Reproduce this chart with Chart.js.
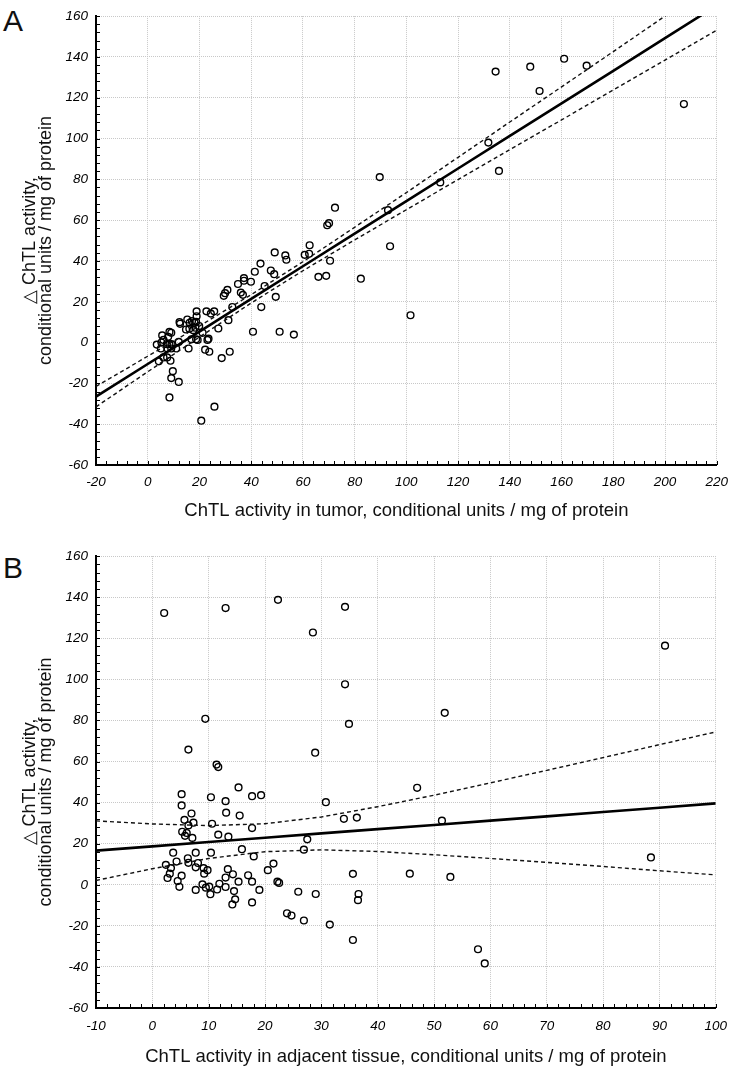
<!DOCTYPE html>
<html>
<head>
<meta charset="utf-8">
<script src="https://cdn.jsdelivr.net/npm/chart.js@4.4.1/dist/chart.umd.min.js"></script>
<style>
  body { margin: 0; width: 737px; height: 1070px; position: relative; background: #fff; overflow: hidden; }
  .panel { position: absolute; left: 0; width: 737px; height: 530px; }
  .tag { position: absolute; left: 3px; font: 30px/30px "Liberation Sans", Arial, sans-serif; color: #111; }
</style>
</head>
<body>
<div class="tag" style="top:6px">A</div>
<div class="panel" style="top:0"><canvas id="chartA" width="737" height="530"></canvas></div>
<div class="tag" style="top:553px">B</div>
<div class="panel" style="top:540px"><canvas id="chartB" width="737" height="530"></canvas></div>
<script>
// Panel A: ChTL activity in tumor vs delta ChTL activity
const tumorX = [3.5, 5.3, 5.6, 6.1, 5.1, 4.3, 6.1, 7.4, 8.4, 9.2, 7.6, 9.1, 11, 7.9, 8.4, 9.1, 7.5, 8.8, 9.7, 9.1,
  12, 8.4, 12, 12.3, 12.5, 14.8, 16.1, 17.6, 18.4, 15.3, 16.2, 17.1, 18.1, 18.9, 18.9, 18.7, 19.9, 21.2, 18.7, 19.3,
  16.9, 15.8, 22.7, 24.4, 25.7, 23.1, 23.5, 22.2, 23.8, 27.3, 28.6, 31.7, 25.8, 20.7, 31.2, 32.7, 29.4, 29.9, 30.8, 34.9,
  36, 36.8, 37.2, 37.2, 39.9, 41.4, 43.6, 45.2, 43.9, 40.7, 49.5, 47.6, 48.9, 49.1, 53.2, 53.6, 51, 56.5, 60.7, 62.4,
  62.6, 66, 69, 70.5, 69.4, 70.1, 72.4, 82.4, 89.7, 92.9, 93.7, 101.6, 113.1, 131.7, 135.8, 134.5, 147.9, 151.5, 161, 169.7,
  207.3];
const deltaA = [-1, 0, 3.5, 1.3, -2.9, -9.2, -7.3, -0.8, -0.8, -0.8, -2.9, -2.9, -2.9, 2.8, 5.2, 4.8, -7.3, -8.9, -14, -17.4,
  -19.3, -26.9, 0.3, 10, 9.2, 6.4, 6.8, 6.1, 7.3, 11.3, 9.7, 10.5, 9.7, 15.3, 12.9, 10.1, 8.1, 4.8, 1.6, 1.3,
  1.6, -2.9, 15.3, 14.2, 15.3, 1.3, 1.9, -3.5, -4.5, 6.9, -7.6, -4.5, -31.4, -38.3, 11, 17.4, 22.9, 24.2, 25.8, 28.7,
  24.5, 23.4, 31.6, 30.3, 29.8, 34.7, 38.7, 27.7, 17.4, 5.3, 22.4, 35.3, 33.5, 44.2, 42.7, 40.6, 5.3, 3.9, 43, 43.5,
  47.7, 32.2, 32.7, 40.1, 57.5, 58.5, 66.1, 31.3, 81.1, 64.9, 47.2, 13.4, 78.5, 98, 84.1, 132.8, 135.2, 123.3, 139.1, 135.7,
  116.9];
const fitXA = [-20, 0, 20, 40, 60, 80, 100, 120, 140, 160, 180, 200, 220];
const fitA = [-26.5, -10.5, 5.4, 21.4, 37.4, 53.4, 69.3, 85.3, 101.3, 117.2, 133.2, 149.2, 165.2];
const upperA = [-21.5, -6.7, 8.1, 23.5, 39.6, 56.5, 73.5, 90.8, 108.1, 125.3, 142.6, 160.0, 177.3];
const lowerA = [-31.5, -14.3, 2.7, 19.4, 35.2, 50.3, 65.1, 79.9, 94.6, 109.1, 123.8, 138.4, 153.1];
const xTicksA = [-20, 0, 20, 40, 60, 80, 100, 120, 140, 160, 180, 200, 220];

// Panel B: ChTL activity in adjacent tissue vs delta ChTL activity
const adjacentX = [2.1, 13, 22.3, 34.2, 28.5, 91, 34.2, 51.9, 9.4, 34.9, 6.4, 28.9, 11.4, 11.7, 15.3, 47, 5.2, 10.4, 17.7, 19.3,
  13, 30.8, 5.2, 6.95, 13.1, 15.5, 34, 36.3, 51.4, 5.7, 6.4, 7.3, 10.6, 17.7, 5.3, 5.8, 6.1, 7.1, 11.7, 13.5,
  27.5, 15.9, 26.9, 3.7, 7.7, 10.4, 18, 88.5, 6.3, 8.1, 6.4, 2.4, 4.3, 3.3, 7.7, 21.5, 20.5, 9.1, 9.8, 9.2,
  13.4, 14.3, 17, 13, 2.7, 3.1, 5.2, 4.5, 4.8, 35.6, 45.7, 52.9, 15.3, 17.7, 22.2, 22.5, 8.9, 9.5, 10.1, 10.3,
  11.5, 11.9, 13, 7.7, 19, 14.5, 14.7, 14.2, 17.7, 25.9, 29, 36.6, 36.5, 23.9, 24.7, 26.9, 31.5, 35.6, 57.8, 59];
const deltaB = [132.3, 134.7, 138.7, 135.3, 122.8, 116.4, 97.6, 83.7, 80.8, 78.3, 65.8, 64.3, 58.5, 57.3, 47.4, 47.2, 44.1, 42.6, 43.1, 43.6,
  40.7, 40.2, 38.6, 34.7, 35.1, 33.7, 32.1, 32.7, 31.2, 31.6, 28.9, 30.2, 29.7, 27.6, 25.8, 23.8, 25.2, 22.8, 24.4, 23.4,
  22.1, 17.3, 17.1, 15.6, 15.6, 15.6, 13.8, 13.3, 12.9, 10.6, 10.7, 9.7, 11.3, 8.1, 8.5, 10.3, 7.1, 8.1, 7.1, 5.4,
  7.6, 5.1, 4.6, 3.5, 3.3, 5.4, 4.4, 1.8, -1, 5.3, 5.4, 3.8, 1.5, 1.5, 1.5, 0.9, 0.2, -1.4, -0.9, -4.6,
  -2.3, 0.5, -1.1, -2.5, -2.5, -3.1, -7.1, -9.6, -8.6, -3.4, -4.5, -4.5, -7.5, -13.9, -15, -17.4, -19.4, -26.9, -31.4, -38.3];
const fitXB = [-10, 0, 10, 20, 30, 40, 50, 60, 70, 80, 90, 100];
const fitB = [16.6, 18.7, 20.8, 22.9, 25.0, 27.1, 29.1, 31.2, 33.3, 35.4, 37.5, 39.6];
const upperB = [31.1, 29.6, 28.8, 29.7, 33.0, 38.0, 43.6, 49.6, 55.7, 61.9, 68.2, 74.4];
const lowerB = [2.1, 7.8, 12.8, 16.1, 17.0, 16.2, 14.6, 12.8, 10.9, 8.9, 6.8, 4.8];
const xTicksB = [-10, 0, 10, 20, 30, 40, 50, 60, 70, 80, 90, 100];

const yTicks = [-60, -40, -20, 0, 20, 40, 60, 80, 100, 120, 140, 160];
const yTitle = ["\u25B3 ChTL activity,", "conditional units / mg of protein"];

const FONT = '"Liberation Sans", Arial, sans-serif';

// small inward ticks along the left and bottom axes
const minorTicks = {
  id: 'minorTicks',
  afterDatasetsDraw(chart, args, opts) {
    const { ctx, chartArea: ca, scales } = chart;
    ctx.save();
    ctx.strokeStyle = '#000';
    ctx.lineWidth = 1;
    ctx.beginPath();
    for (let v = scales.x.min; v <= scales.x.max + 1e-6; v += opts.xStep) {
      const px = Math.round(scales.x.getPixelForValue(v)) + 0.5;
      ctx.moveTo(px, ca.bottom);
      ctx.lineTo(px, ca.bottom - 4);
    }
    for (let v = scales.y.min; v <= scales.y.max + 1e-6; v += opts.yStep) {
      const py = Math.round(scales.y.getPixelForValue(v)) + 0.5;
      ctx.moveTo(ca.left, py);
      ctx.lineTo(ca.left + 4, py);
    }
    ctx.stroke();
    ctx.restore();
  }
};

function pairs(xs, ys) {
  return xs.map((x, i) => ({ x: x, y: ys[i] }));
}

function makeChart(id, o) {
  const ctx = document.getElementById(id).getContext('2d');
  const tickFont = { family: FONT, size: 13.5, style: 'italic' };
  const gridOpts = { color: '#c8c8c8', lineWidth: 1, drawTicks: false };
  const borderOpts = { display: true, color: '#000', width: 2, dash: [1, 1] }; // dash applies to grid lines in v4
  return new Chart(ctx, {
    type: 'scatter',
    data: {
      datasets: [
        { type: 'line', data: pairs(o.fitX, o.fit), borderColor: '#000', borderWidth: 2.6, pointRadius: 0, fill: false },
        { type: 'line', data: pairs(o.fitX, o.upper), borderColor: '#111', borderWidth: 1.4, borderDash: [4, 3], pointRadius: 0, fill: false },
        { type: 'line', data: pairs(o.fitX, o.lower), borderColor: '#111', borderWidth: 1.4, borderDash: [4, 3], pointRadius: 0, fill: false },
        { data: pairs(o.xs, o.ys), pointRadius: 3.4, pointBorderWidth: 1.4, borderColor: '#000', backgroundColor: 'rgba(0,0,0,0)' }
      ]
    },
    options: {
      responsive: false,
      animation: false,
      events: [],
      layout: { padding: { top: o.padTop, right: 16, bottom: o.padBottom, left: 0 } },
      plugins: {
        legend: { display: false },
        tooltip: { enabled: false },
        minorTicks: { xStep: o.xMinor, yStep: 4 }
      },
      scales: {
        x: {
          type: 'linear',
          min: o.xTicks[0],
          max: o.xTicks[o.xTicks.length - 1],
          grid: gridOpts,
          border: borderOpts,
          ticks: { stepSize: o.xTicks[1] - o.xTicks[0], color: '#000', font: tickFont, padding: o.xPad, maxRotation: 0 },
          title: { display: true, text: o.xTitle, color: '#111', font: { family: FONT, size: 18.5, lineHeight: 1.2 }, padding: { top: 0, bottom: 0 } },
          afterFit(scale) { scale.height = o.xHeight; }
        },
        y: {
          type: 'linear',
          min: yTicks[0],
          max: yTicks[yTicks.length - 1],
          grid: gridOpts,
          border: borderOpts,
          ticks: { stepSize: yTicks[1] - yTicks[0], color: '#000', font: tickFont, padding: 8 },
          title: { display: true, text: yTitle, color: '#111', font: { family: FONT, size: 18, lineHeight: 0.9 }, padding: { top: 22, bottom: 0 } },
          afterFit(scale) { scale.width = 96; }
        }
      }
    },
    plugins: [minorTicks]
  });
}

makeChart('chartA', {
  xs: tumorX, ys: deltaA, fitX: fitXA, fit: fitA, upper: upperA, lower: lowerA, xTicks: xTicksA,
  xMinor: 4, padTop: 10, padBottom: 8, xHeight: 57, xPad: 9,
  xTitle: 'ChTL activity in tumor, conditional units / mg of protein'
});

makeChart('chartB', {
  xs: adjacentX, ys: deltaB, fitX: fitXB, fit: fitB, upper: upperB, lower: lowerB, xTicks: xTicksB,
  xMinor: 2, padTop: 12, padBottom: 2, xHeight: 60, xPad: 10,
  xTitle: 'ChTL activity in adjacent tissue, conditional units / mg of protein'
});
</script>
</body>
</html>
